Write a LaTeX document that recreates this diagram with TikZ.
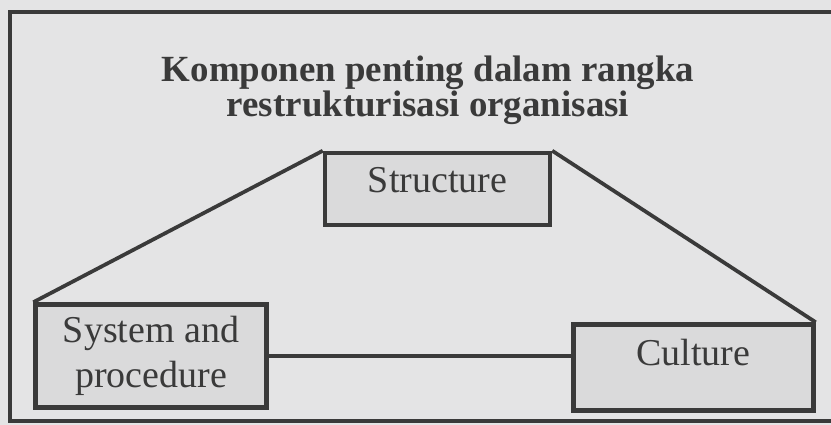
\documentclass[tikz,border=0pt]{standalone}
\usepackage{fontspec}
\setmainfont{Liberation Serif}
\usetikzlibrary{positioning}

\definecolor{paper}{RGB}{228,228,229}
\definecolor{boxfill}{RGB}{218,218,219}
\definecolor{ink}{RGB}{58,58,58}

\begin{document}
\begin{tikzpicture}[x=0.03cm, y=-0.03cm,
    box/.style={draw=ink,
        fill=boxfill,
        line width=3.8pt,
        text=ink,
        inner sep=0,
        align=center,
        font=\fontsize{32.4pt}{38.4pt}\selectfont},
    link/.style={draw=ink, line width=3.2pt}]

\path[use as bounding box, fill=paper] (0,0) rectangle (831,425);

% frame round the figure (right side runs off the page)
\draw[ink, line width=2.8pt] (831,12) -- (10,12) -- (10,421) -- (831,421);

\node[align=center,
    inner sep=0,
    text=ink,
    font=\fontsize{31.5pt}{29.5pt}\selectfont\bfseries] (title) at (428,90)
    {Komponen penting dalam rangka\\restrukturisasi organisasi};

\node[box,
    minimum width=6.75cm,
    minimum height=2.16cm,
    text depth=0.54cm] (structure) at (437.5,189) {Structure};

\node[box,
    below left=2.25cm and 1.62cm of structure,
    minimum width=6.93cm,
    minimum height=3.09cm] (system) {System and\\procedure};

\node[box,
    below right=2.85cm and 0.57cm of structure,
    minimum width=7.2cm,
    minimum height=2.58cm,
    text depth=0.9cm] (culture) {Culture};

\draw[link] (structure.north west) -- (system.north west)
    (structure.north east) -- (culture.north east)
    (system.east) -- (culture.west |- system.east);

\end{tikzpicture}
\end{document}
